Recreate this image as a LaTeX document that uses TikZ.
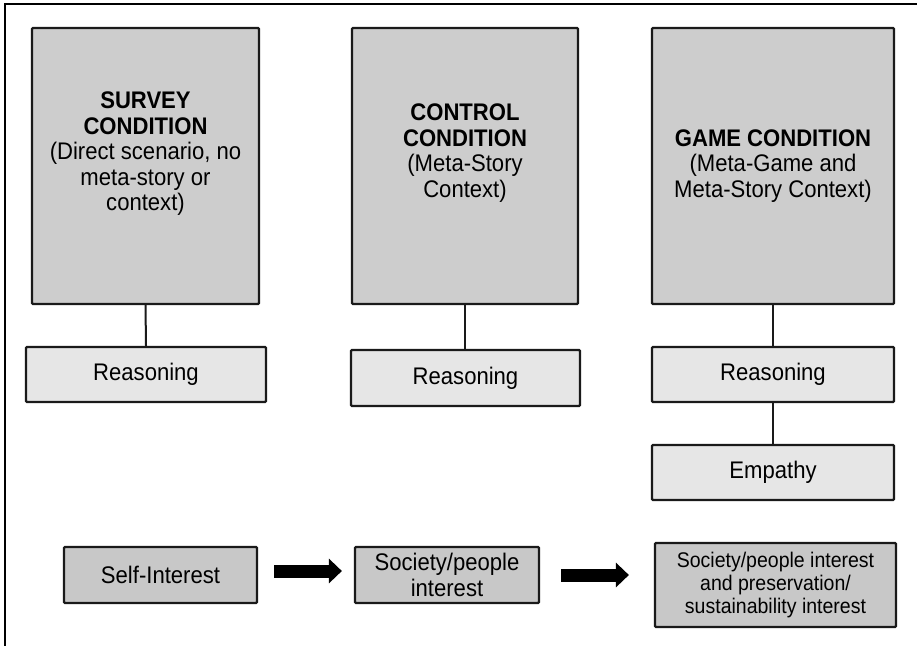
\documentclass[tikz,border=0pt]{standalone}
\usepackage{fontspec}
\setmainfont{Liberation Sans}[FakeStretch=0.92]
\usetikzlibrary{arrows.meta}
\definecolor{bigfill}{HTML}{CDCDCD}
\definecolor{lightfill}{HTML}{E6E6E6}
\definecolor{botfill}{HTML}{C8C8C8}
\definecolor{edge}{HTML}{1A1A1A}
\tikzset{
  box/.style={draw=edge, line width=2.2pt, rounded corners=1pt, inner sep=0pt, align=center,
    font=\fontsize{24}{25.5}\selectfont},
  bigbox/.style={box, fill=bigfill},
  lightbox/.style={box, fill=lightfill},
  botbox/.style={box, fill=botfill},
  txt/.style={align=center, inner sep=0pt, font=\fontsize{24}{25.5}\selectfont},
  link/.style={draw=edge, line width=2pt},
  fatarrow/.style={draw=black, line width=13pt, -{Triangle[length=13pt,width=24pt]}},
}
\begin{document}
\begin{tikzpicture}[x=1pt,y=-1pt]
\useasboundingbox (0,0) rectangle (917,646);
% frame
\coordinate (fa) at (917,4);
\coordinate (fb) at (5,4);
\coordinate (fc) at (5,646);
\draw[line width=1.5pt] (fa) -- (fb) -- (fc);

% condition boxes
\node[bigbox, minimum width=227pt, minimum height=276pt] (c1) at (145.5,166) {};
\node[bigbox, minimum width=226pt, minimum height=276pt] (c2) at (465,166) {};
\node[bigbox, minimum width=242pt, minimum height=276pt] (c3) at (773,166) {};
\node[txt] (c1t) at (145.5,154) {\textbf{SURVEY}\\\textbf{CONDITION}\\(Direct scenario, no\\meta-story or\\context)};
\node[txt] (c2t) at (465,153) {\textbf{CONTROL}\\\textbf{CONDITION}\\(Meta-Story\\Context)};
\node[txt] (c3t) at (773,166) {\textbf{GAME CONDITION}\\(Meta-Game and\\Meta-Story Context)};

% reasoning boxes
\node[lightbox, minimum width=240pt, minimum height=55pt] (r1) at (146,374.5) {Reasoning};
\node[lightbox, minimum width=229pt, minimum height=56pt] (r2) at (465.5,378) {Reasoning};
\node[lightbox, minimum width=242pt, minimum height=55pt] (r3) at (773,374.5) {Reasoning};
\node[lightbox, minimum width=242pt, minimum height=55pt] (em) at (773,472.5) {Empathy};

\draw[link] (c1.south) -- (r1.north);
\draw[link] (c2.south) -- (c2.south |- r2.north);
\draw[link] (c3.south) -- (r3.north);
\draw[link] (r3.south) -- (em.north);

% bottom row
\node[botbox, minimum width=193pt, minimum height=56pt] (si) at (160.5,575) {Self-Interest};
\node[botbox, minimum width=184pt, minimum height=56pt] (sp) at (447,575) {Society/people\\interest};
\node[botbox, minimum width=241pt, minimum height=84pt, font=\fontsize{21.2}{23}\selectfont] (sus) at (775.5,585) {Society/people interest\\and preservation/\\sustainability interest};

\draw[fatarrow, shorten <=16pt, shorten >=12pt] ([yshift=4pt]si.east) -- ([yshift=4pt]si.east -| sp.west);
\draw[fatarrow, shorten <=21pt, shorten >=25pt] (sp.east) -- (sp.east -| sus.west);
\end{tikzpicture}
\end{document}
